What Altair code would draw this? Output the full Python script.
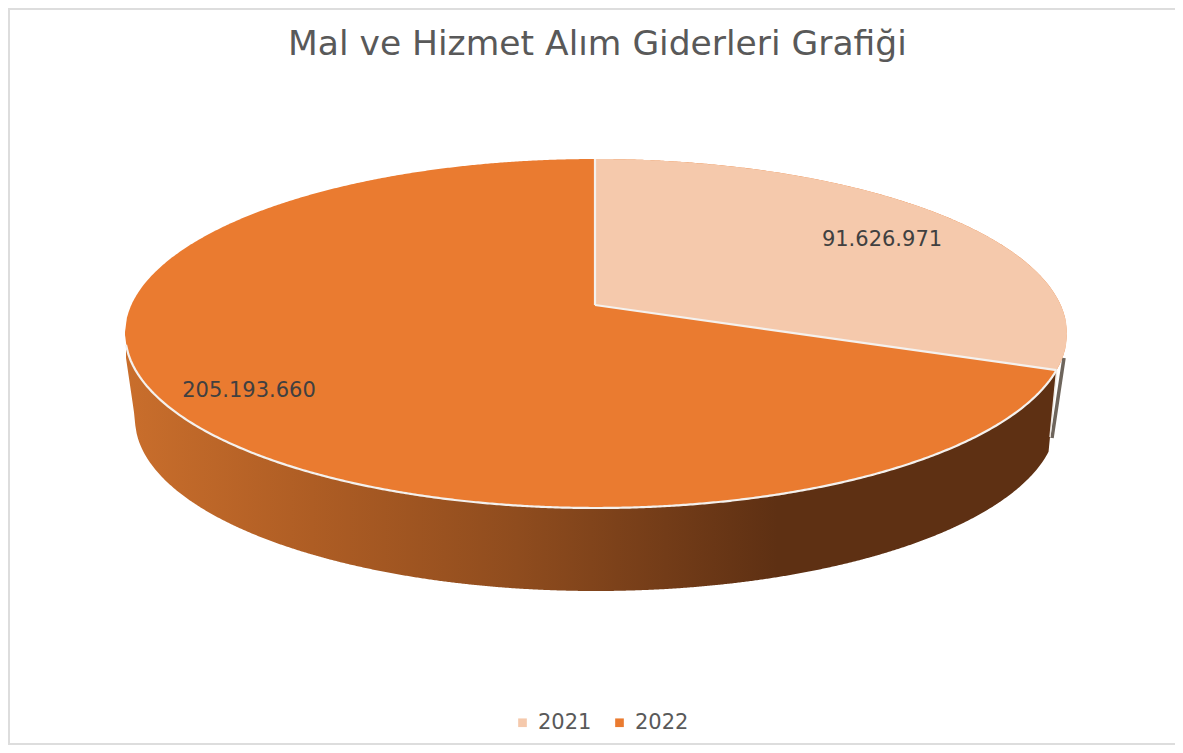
import numpy as np
import pandas as pd
import altair as alt

# ---- values
years = ["2021", "2022"]
values = [91626971, 205193660]
labels = ["91.626.971", "205.193.660"]
colors = ["#F5C9AC", "#EA7B30"]
title_text = "Mal ve Hizmet Alım Giderleri Grafiği"

# ---- page / geometry (reference pixels)
W, H = 1167, 737
OX, OY = 8, 8
CX, CY, A, B = 596.0, 333.5, 471.0, 174.5     # top ellipse
APEX_Y = 305.0
BOT_CY, BOT_A, BOT_B = 419.0, 461.0, 172.0    # lower rim ellipse
LEFT_TIP_Y = 358.0
WALL_END_X, WALL_END_Y = 1050.0, 437.0        # where the brown wall stops on the right
FONT = "DejaVu Sans"

xs = alt.Scale(domain=[OX, OX + W], nice=False, zero=False)
ys = alt.Scale(domain=[OY + H, OY], nice=False, zero=False)
X = lambda f="x": alt.X(f"{f}:Q", scale=xs, axis=None)
Y = lambda f="y": alt.Y(f"{f}:Q", scale=ys, axis=None, stack=None)
Y2 = lambda f="y2": alt.Y2(f"{f}:Q")


def upper(x):
    return CY - B * np.sqrt(np.clip(1 - ((x - CX) / A) ** 2, 0, 1))


def lower(x):
    return CY + B * np.sqrt(np.clip(1 - ((x - CX) / A) ** 2, 0, 1))


def bot(x):
    return BOT_CY + BOT_B * np.sqrt(np.clip(1 - ((x - CX) / BOT_A) ** 2, 0, 1))


def project(theta):
    """A point of the pie's rim, tilted in perspective; theta clockwise from 12 o'clock."""
    c = (2 * APEX_Y - (CY - B) - (CY + B)) / ((CY + B) - (CY - B))
    c = -c
    bb = (CY - B) * (1 + c) - APEX_Y
    aa = A * np.sqrt(1 - c * c)
    u, v = np.sin(theta), np.cos(theta)
    d = 1 + c * v
    return CX + aa * u / d, (APEX_Y + bb * v) / d


share = values[0] / sum(values)
px, py = project(2 * np.pi * share)
py = float(lower(px))
px = float(px)

# ---- whole top ellipse (2022)
x_all = np.concatenate([[CX - A], np.linspace(CX - A + 0.02, CX + A - 0.02, 500), [CX + A]])
top22 = pd.DataFrame({"x": x_all, "y": upper(x_all), "y2": lower(x_all), "year": years[1]})

# ---- slice 2021
x_s = np.concatenate([np.linspace(CX, px, 200), np.linspace(px, CX + A, 60)[1:]])
low_s = np.where(x_s <= px, APEX_Y + (py - APEX_Y) * (x_s - CX) / (px - CX), lower(x_s))
top21 = pd.DataFrame({"x": x_s, "y": upper(x_s), "y2": low_s, "year": years[0]})

# ---- side wall
x_w = np.linspace(CX - A + 1, px, 700)
left_end = CX - BOT_A
wall_bot = np.where(
    x_w < left_end,
    LEFT_TIP_Y + (BOT_CY - LEFT_TIP_Y) * (x_w - (CX - A + 1)) / (left_end - (CX - A + 1)),
    bot(x_w),
)
right_edge = WALL_END_Y + (py - WALL_END_Y) * (x_w - WALL_END_X) / (px - WALL_END_X)
wall_bot = np.where(x_w > WALL_END_X - 2, np.minimum(wall_bot, right_edge), wall_bot)
wall = pd.DataFrame({"x": x_w, "y": lower(x_w), "y2": wall_bot})

# ---- rim lines
x_rim = np.linspace(CX - A + 1, px, 400)
rim = pd.DataFrame({"x": x_rim, "y": lower(x_rim)})
spoke1 = pd.DataFrame({"x": [CX - 1, CX - 1], "y": [APEX_Y, CY - B]})
spoke2 = pd.DataFrame({"x": [CX - 1, px], "y": [APEX_Y, py]})
t_s = np.linspace(0, 1, 30)
streak = pd.DataFrame({"x": 1064 - 12 * t_s, "y": 358 + 80 * t_s})
streak2 = pd.DataFrame({"x": 1056.5 - 6.5 * t_s, "y": 372 + 65 * t_s})

gradient = alt.LinearGradient(
    gradient="linear",
    stops=[
        alt.GradientStop(color="#C96E2C", offset=0.0),
        alt.GradientStop(color="#AE5D24", offset=0.2),
        alt.GradientStop(color="#8F4C1E", offset=0.42),
        alt.GradientStop(color="#733C18", offset=0.58),
        alt.GradientStop(color="#5E3013", offset=0.70),
        alt.GradientStop(color="#5E3013", offset=1.0),
    ],
    x1=0, x2=1, y1=0, y2=0,
)

color = alt.Color(
    "year:N",
    scale=alt.Scale(domain=years, range=colors),
    legend=alt.Legend(
        title=None, orient="none", direction="horizontal",
        legendX=512 - OX, legendY=712 - OY,
        symbolType="square", symbolSize=75, symbolStrokeWidth=0,
        labelFont=FONT, labelFontSize=21, labelColor="#595959",
        labelOffset=5, columnPadding=17, padding=0,
    ),
)

wall_l = alt.Chart(wall).mark_area(color=gradient, line=False, interpolate="linear").encode(X(), Y(), Y2())
top22_l = alt.Chart(top22).mark_area(interpolate="linear").encode(X(), Y(), Y2(), color=color)
top21_l = alt.Chart(top21).mark_area(interpolate="linear").encode(X(), Y(), Y2(), color=color)


def white(df, w=2.2):
    return alt.Chart(df).mark_line(color="#F4F1EE", strokeWidth=w, interpolate="linear").encode(X(), alt.Y("y:Q", scale=ys, axis=None))


streak_l = alt.Chart(streak).mark_line(color="#6E655C", strokeWidth=3.5).encode(X(), alt.Y("y:Q", scale=ys, axis=None))
streak2_l = alt.Chart(streak2).mark_line(color="#EDE8E3", strokeWidth=1.4).encode(X(), alt.Y("y:Q", scale=ys, axis=None))

texts = pd.DataFrame({"x": [882, 249], "y": [240, 391], "label": labels})
text_l = alt.Chart(texts).mark_text(font=FONT, fontSize=21, color="#404040", align="center", baseline="middle").encode(
    X(), alt.Y("y:Q", scale=ys, axis=None), text="label:N"
)

edge = "#DDDDDD"
border_left = alt.Chart(pd.DataFrame({"y": [OY], "y2": [OY + H]})).mark_rule(color=edge, strokeWidth=2).encode(
    x=alt.value(1), y=alt.Y("y:Q", scale=ys, axis=None), y2="y2:Q")
border_top = alt.Chart(pd.DataFrame({"x": [OX], "x2": [OX + W]})).mark_rule(color=edge, strokeWidth=2).encode(
    y=alt.value(1), x=alt.X("x:Q", scale=xs, axis=None), x2="x2:Q")
border_bottom = alt.Chart(pd.DataFrame({"x": [OX], "x2": [OX + W]})).mark_rule(color=edge, strokeWidth=2).encode(
    y=alt.value(H - 1), x=alt.X("x:Q", scale=xs, axis=None), x2="x2:Q")

chart = alt.layer(
    border_left, border_top, border_bottom,
    streak_l, wall_l, streak2_l, top22_l, top21_l,
    white(rim), white(spoke1), white(spoke2),
    text_l,
).properties(
    width=W, height=H, padding=0,
    autosize=alt.AutoSizeParams(type="none"),
    title=alt.TitleParams(
        title_text, font=FONT, fontSize=34.5, fontWeight="normal", color="#595959",
        anchor="start", frame="group", dx=280, dy=55, offset=0,
    ),
    background="white",
).configure_view(stroke=None)

chart.save("out.html", embed_options={"renderer": "svg", "actions": False})
